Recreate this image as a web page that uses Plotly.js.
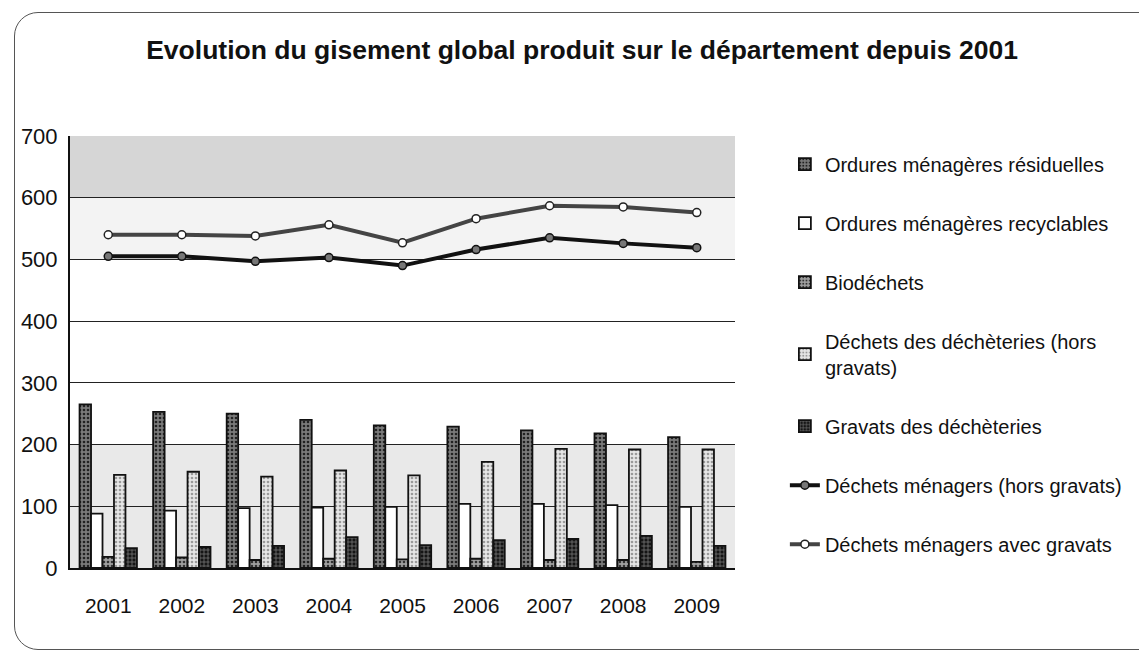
<!DOCTYPE html>
<html>
<head>
<meta charset="utf-8">
<script src="https://cdn.plot.ly/plotly-3.0.1.min.js"></script>
<style>
  body { margin: 0; background: #fff; }
  #frame { position: absolute; left: 14px; top: 12px; width: 1160px; height: 636px;
           border: 1px solid #555; border-radius: 24px 0 0 24px; }
  #myDiv { position: absolute; left: 0; top: 0; width: 1139px; height: 654px; }
</style>
</head>
<body>
<div id="frame"></div>
<div id="myDiv"></div>
<script>
var years = ['2001', '2002', '2003', '2004', '2005', '2006', '2007', '2008', '2009'];

var omResiduelles = [265, 253, 250, 240, 231, 229, 223, 218, 212];
var omRecyclables = [88, 93, 97, 98, 99, 104, 104, 102, 99];
var biodechets = [18, 17, 13, 15, 14, 15, 13, 13, 10];
var decheteries = [151, 156, 148, 158, 150, 172, 193, 192, 192];
var gravats = [32, 34, 36, 50, 37, 45, 47, 52, 36];
var menagersHorsGravats = [505, 505, 497, 503, 490, 516, 535, 526, 519];
var menagersAvecGravats = [540, 540, 538, 556, 527, 566, 587, 585, 576];

var edge = {color: '#111', width: 1.8};
var fam = '"Liberation Sans", Arial, sans-serif';

function bars(name, values, bg, fg, shape) {
  return {
    x: years, y: values, name: name, type: 'bar', legendgroup: name,
    marker: {
      color: bg, line: edge,
      pattern: shape ? {shape: shape, fgcolor: fg, bgcolor: bg, size: 4, solidity: 0.35} : undefined
    }
  };
}

var data = [
  bars('Ordures ménagères résiduelles', omResiduelles, '#7a7a7a', '#222', '.'),
  bars('Ordures ménagères recyclables', omRecyclables, '#ffffff', null, null),
  bars('Biodéchets', biodechets, '#a0a0a0', '#333', '.'),
  bars('Déchets des déchèteries (hors<br>gravats)', decheteries, '#e6e6e6', '#9a9a9a', '.'),
  bars('Gravats des déchèteries', gravats, '#151515', '#777', '+'),
  {
    x: years, y: menagersHorsGravats, name: 'Déchets ménagers (hors gravats)',
    type: 'scatter', mode: 'lines+markers', legendgroup: 'hg',
    line: {color: '#111', width: 4},
    marker: {symbol: 'circle', size: 8, color: '#777', line: {color: '#111', width: 1.5}}
  },
  {
    x: years, y: menagersAvecGravats, name: 'Déchets ménagers avec gravats',
    type: 'scatter', mode: 'lines+markers', legendgroup: 'ag',
    line: {color: '#444', width: 4},
    marker: {symbol: 'circle', size: 8, color: '#fff', line: {color: '#222', width: 1.5}}
  }
];

var layout = {
  width: 1139, height: 654,
  margin: {l: 70, r: 404, t: 136, b: 86},
  paper_bgcolor: 'rgba(0,0,0,0)',
  plot_bgcolor: '#ffffff',
  font: {family: fam, size: 18, color: '#111'},
  title: {
    text: '<b>Evolution du gisement global produit sur le département depuis 2001</b>',
    font: {family: fam, size: 26.5, color: '#111'},
    x: 0.511, xanchor: 'center', xref: 'container',
    y: 0.924, yanchor: 'middle', yref: 'container'
  },
  barmode: 'group', bargap: 0.22, bargroupgap: 0,
  showlegend: true,
  legend: {
    x: 1.075, xanchor: 'left', y: 0.98, yanchor: 'top',
    traceorder: 'grouped', tracegroupgap: 30,
    font: {family: fam, size: 20, color: '#111'},
    bgcolor: 'rgba(0,0,0,0)'
  },
  xaxis: {
    type: 'category',
    showline: true, linecolor: '#111', linewidth: 2,
    ticks: '', ticklabelstandoff: 18,
    tickfont: {family: fam, size: 21, color: '#111'}
  },
  yaxis: {
    range: [0, 700], dtick: 100,
    showline: true, linecolor: '#111', linewidth: 2,
    showgrid: true, gridcolor: '#222', gridwidth: 1,
    zeroline: false,
    ticks: '', ticklabelstandoff: 6,
    tickfont: {family: fam, size: 22, color: '#111'}
  },
  shapes: [
    {type: 'rect', xref: 'paper', yref: 'y', x0: 0, x1: 1, y0: 600, y1: 700,
     fillcolor: '#d6d6d6', line: {width: 0}, layer: 'below'},
    {type: 'rect', xref: 'paper', yref: 'y', x0: 0, x1: 1, y0: 500, y1: 600,
     fillcolor: '#f3f3f3', line: {width: 0}, layer: 'below'},
    {type: 'rect', xref: 'paper', yref: 'y', x0: 0, x1: 1, y0: 0, y1: 200,
     fillcolor: '#e9e9e9', line: {width: 0}, layer: 'below'}
  ]
};

Plotly.newPlot('myDiv', data, layout, {displayModeBar: false});
</script>
</body>
</html>
